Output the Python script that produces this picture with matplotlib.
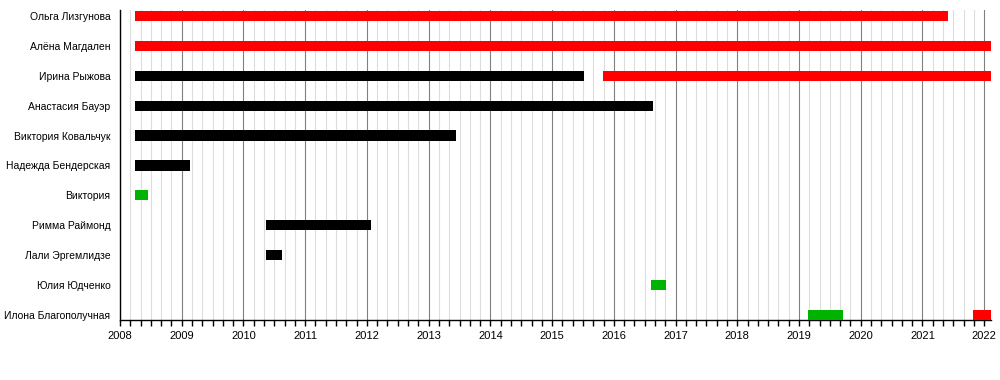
import numpy as np
import matplotlib.pyplot as plt
from matplotlib.ticker import MultipleLocator

plt.rcParams['font.family'] = ['Liberation Sans', 'DejaVu Sans']

# Data
names = ["Ольга Лизгунова", "Алёна Магдален", "Ирина Рыжова", "Анастасия Бауэр",
         "Виктория Ковальчук", "Надежда Бендерская", "Виктория", "Римма Раймонд",
         "Лали Эргемлидзе", "Юлия Юдченко", "Илона Благополучная"]

# (row index, start, end, colour)
bar_rows = [0, 1, 2, 2, 3, 4, 5, 6, 7, 8, 9, 10, 10]
bar_start = [2008.25, 2008.25, 2008.25, 2015.82, 2008.25, 2008.25, 2008.25, 2008.25,
             2010.36, 2010.36, 2016.61, 2019.14, 2021.82]
bar_end = [2021.41, 2022.11, 2015.51, 2022.11, 2016.63, 2013.45, 2009.13, 2008.46,
           2012.06, 2010.62, 2016.84, 2019.72, 2022.11]
bar_color = ["#ff0000", "#ff0000", "#000000", "#ff0000", "#000000", "#000000", "#000000",
             "#00b300", "#000000", "#000000", "#00b300", "#00b300", "#ff0000"]

years = list(range(2008, 2023))

fig = plt.figure(figsize=(10, 3.8), dpi=100)
ax = fig.add_axes([0.12, 60 / 380, 0.871, 310 / 380])

n = len(names)
for r, s, e, c in zip(bar_rows, bar_start, bar_end, bar_color):
    ax.barh(n - 1 - r, e - s, left=s, height=0.34, color=c, zorder=3)

ax.set_xlim(2008, 2022.11)
ax.set_ylim(-0.17, n - 1 + 0.2)

ax.set_yticks(range(n))
ax.set_yticklabels(names[::-1], fontsize=7.5)
ax.tick_params(axis='y', length=0, pad=7)

ax.set_xticks(years)
ax.set_xticklabels([str(y) for y in years], fontsize=8)
ax.xaxis.set_minor_locator(MultipleLocator(1 / 6))
ax.tick_params(axis='x', which='both', direction='out', length=4, width=1, color='black', pad=4)

ax.grid(axis='x', which='major', color='#808080', linewidth=0.8, zorder=1)
ax.grid(axis='x', which='minor', color='#dddddd', linewidth=0.8, zorder=0)
ax.grid(axis='y', visible=False)

for side in ['top', 'right']:
    ax.spines[side].set_visible(False)
ax.spines['left'].set_linewidth(1)
ax.spines['bottom'].set_linewidth(1)

fig.savefig('out.png', dpi=100)
